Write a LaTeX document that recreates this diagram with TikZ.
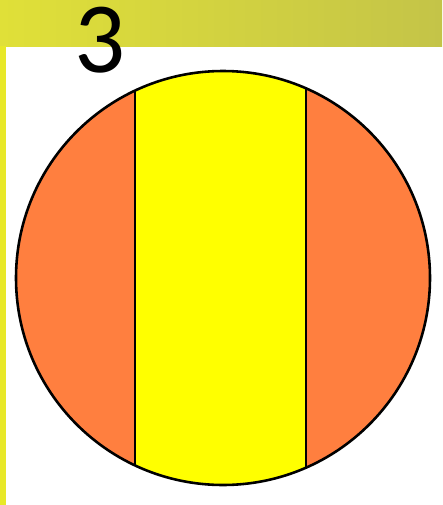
\documentclass[tikz,border=0pt]{standalone}
\usepackage{fontspec}
\setmainfont{Carlito}
\usetikzlibrary{calc}
\definecolor{bandL}{RGB}{224,224,56}
\definecolor{bandR}{RGB}{196,196,72}
\definecolor{stripY}{RGB}{232,232,40}
\definecolor{segOrange}{RGB}{255,127,63}
\definecolor{segYellow}{RGB}{255,255,0}

\begin{document}
\begin{tikzpicture}[x=0.03cm,y=-0.03cm]
  \useasboundingbox (0,0) rectangle (442,505);
  % page background and title band
  \fill[white] (0,0) rectangle (442,505);
  \shade[left color=bandL, right color=bandR] (0,0) rectangle (442,46);
  \fill[stripY] (0,46) rectangle (6,505);
  \node[font=\fontsize{86}{86}\selectfont, anchor=base, inner sep=0pt] (num) at (100,72) {3};
  % circle cut in three bands
  \coordinate (c) at (223,278);
  \fill[segOrange] (c) circle[radius=207];
  \begin{scope}
    \clip (c) circle[radius=207];
    \fill[segYellow] (135,60) rectangle (306,500);
  \end{scope}
  \draw[line width=2.2pt] (135,90.6) -- (135,465.4);
  \draw[line width=2.2pt] (306,88.4) -- (306,467.6);
  \draw[line width=2.2pt] (c) circle[radius=207];
\end{tikzpicture}
\end{document}
